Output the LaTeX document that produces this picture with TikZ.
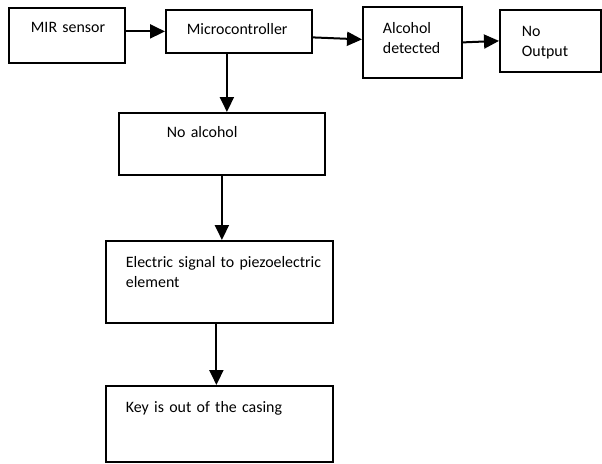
\documentclass[tikz,border=0pt]{standalone}
\usepackage{fontspec}
\setmainfont{Carlito}
\usetikzlibrary{arrows.meta}

\begin{document}
\begin{tikzpicture}[x=1pt, y=-1pt,
	blk/.style={draw, line width=1.8pt, anchor=north west, inner sep=0pt, align=left, font=\fontsize{15.9}{19.4}\selectfont},
	pad/.style={execute at begin node={\leftskip=#1pt}},
	arr/.style={line width=2pt, -{Triangle[length=15pt, width=14pt]}}]
	\useasboundingbox (0,0) rectangle (602,463);
	\node[blk, pad=22, text width=116, text height=25pt, text depth=30pt] (mir) at (8,7) {MIR sensor};
	\node[blk, pad=21, text width=146, text height=25pt, text depth=18pt] (mcu) at (165,9) {Microcontroller};
	\node[blk, pad=20, text width=99, text height=27pt, text depth=44pt] (alc) at (362,6) {Alcohol\\detected};
	\node[blk, pad=22, text width=101, text height=27pt, text depth=35pt] (noout) at (499,9) {No\\Output};
	\node[blk, pad=48, text width=206, text height=25pt, text depth=37pt] (noalc) at (118,112) {No alcohol};
	\node[blk, pad=20, text width=227, text height=27pt, text depth=55pt] (elec) at (105,240) {Electric signal to piezoelectric\\element};
	\node[blk, pad=20, text width=227, text height=27pt, text depth=49pt] (key) at (105,385) {Key is out of the casing};
	\draw[arr] (mcu.west -| mir.east) -- (mcu.west);
	\draw[arr] ([yshift=-6pt]mcu.east) -- ([yshift=3pt]alc.west);
	\draw[arr] (alc.east) -- (noout.west);
	\draw[arr] ([xshift=-12pt]mcu.south) -- ([xshift=-12pt]mcu.south |- noalc.north);
	\draw[arr] (noalc.south) -- (noalc.south |- elec.north);
	\draw[arr] ([xshift=-3pt]elec.south) -- ([xshift=-3pt]elec.south |- key.north);
\end{tikzpicture}
\end{document}
